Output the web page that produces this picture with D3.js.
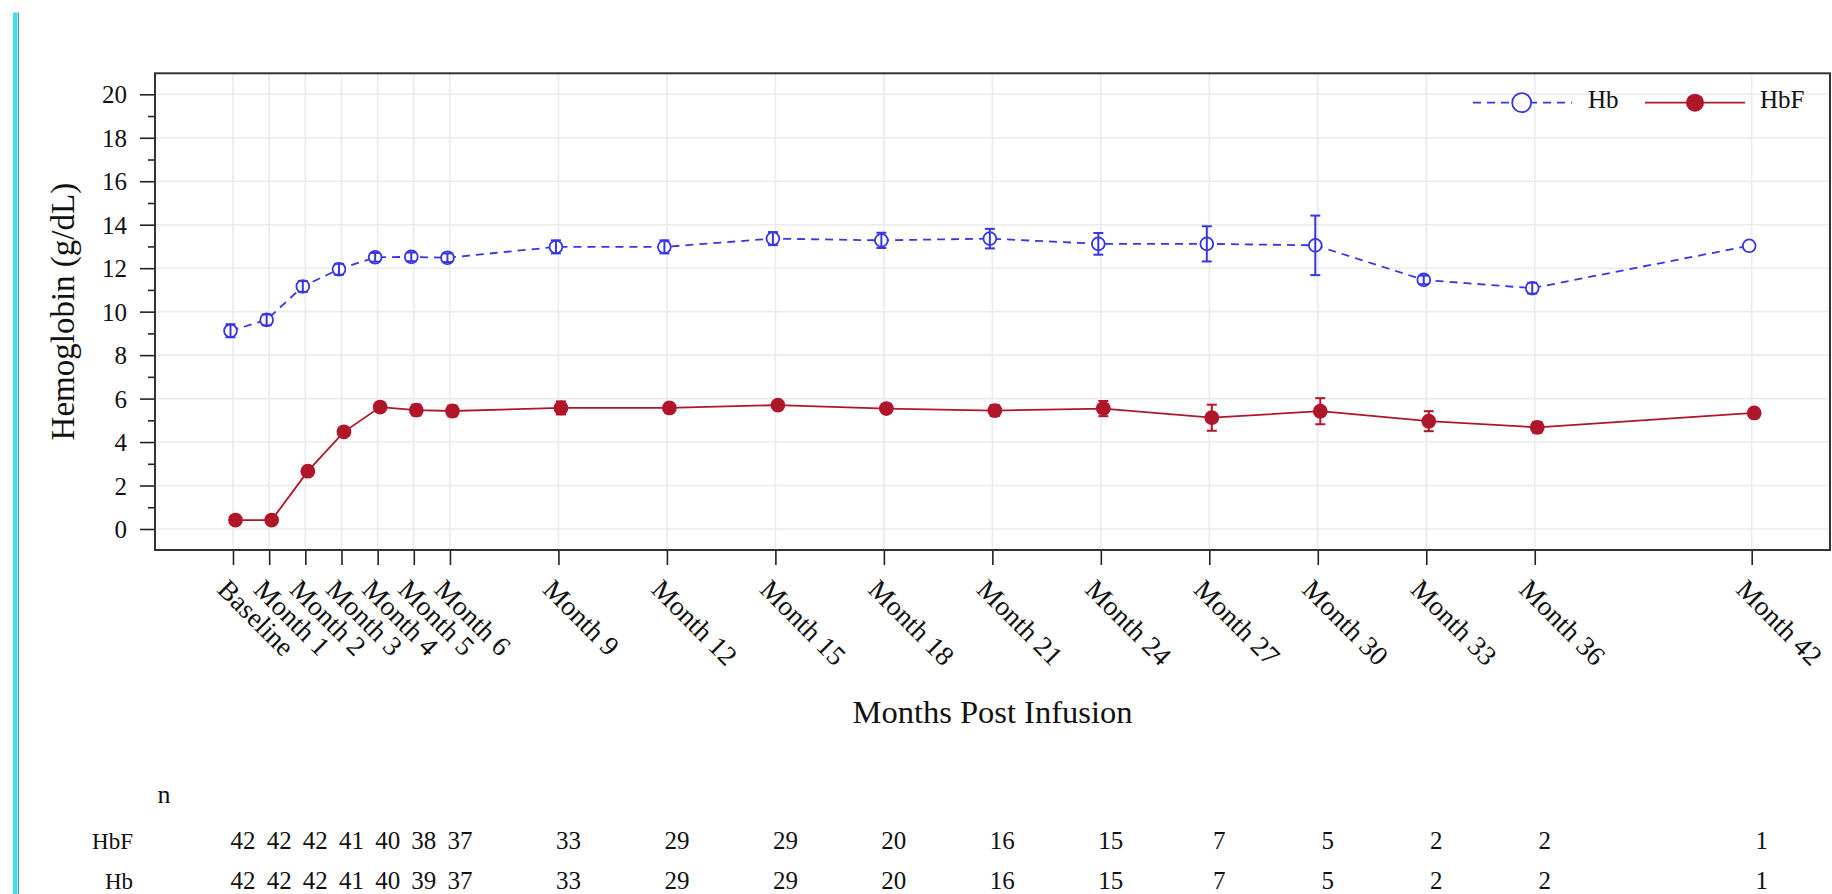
<!DOCTYPE html>
<html>
<head>
<meta charset="utf-8">
<script src="https://cdn.jsdelivr.net/npm/d3@7"></script>
<style>
  html, body { margin: 0; padding: 0; background: #ffffff; }
  svg { display: block; }
  text { font-family: "Liberation Serif", "Times New Roman", serif; fill: #111; }
</style>
</head>
<body>
<svg id="chart" width="1832" height="894"></svg>
<script>
// Visit labels and their position in months after infusion
const visits = ["Baseline", "Month 1", "Month 2", "Month 3", "Month 4", "Month 5", "Month 6",
  "Month 9", "Month 12", "Month 15", "Month 18", "Month 21", "Month 24", "Month 27",
  "Month 30", "Month 33", "Month 36", "Month 42"];
const visitMonths = [0, 1, 2, 3, 4, 5, 6, 9, 12, 15, 18, 21, 24, 27, 30, 33, 36, 42];

// Total hemoglobin: mean and standard error (g/dL)
const hbMean = [9.12, 9.62, 11.16, 11.95, 12.50, 12.52, 12.48, 12.98, 12.98, 13.36, 13.28,
  13.36, 13.12, 13.12, 13.05, 11.46, 11.08, 13.03];
const hbSE = [0.30, 0.25, 0.25, 0.25, 0.20, 0.20, 0.20, 0.30, 0.30, 0.30, 0.35, 0.45, 0.50,
  0.81, 1.37, 0.20, 0.25, 0];

// Fetal hemoglobin: mean and standard error (g/dL)
const hbfMean = [0.41, 0.41, 2.66, 4.47, 5.61, 5.47, 5.43, 5.57, 5.57, 5.70, 5.54, 5.45,
  5.54, 5.12, 5.42, 4.96, 4.68, 5.34];
const hbfSE = [0.10, 0.10, 0.15, 0.15, 0.20, 0.25, 0.25, 0.30, 0.20, 0.20, 0.20, 0.25, 0.35,
  0.60, 0.60, 0.46, 0.25, 0];

// Number of patients contributing at each visit
const nHbF = [42, 42, 42, 41, 40, 38, 37, 33, 29, 29, 20, 16, 15, 7, 5, 2, 2, 1];
const nHb = [42, 42, 42, 41, 40, 39, 37, 33, 29, 29, 20, 16, 15, 7, 5, 2, 2, 1];

const yTicks = [0, 2, 4, 6, 8, 10, 12, 14, 16, 18, 20];
const yMinorTicks = [1, 3, 5, 7, 9, 11, 13, 15, 17, 19];

const HB_COLOR = "#3636e8";
const HBF_COLOR = "#b01629";

const svg = d3.select("#chart");

// Plot frame
const plot = { left: 155, right: 1830, top: 73.3, bottom: 550 };
const x = d3.scaleLinear().domain([0, 42]).range([233, 1751.7]);
const y = d3.scaleLinear().domain([0, 20]).range([529, 94.3]);
const clusterOffset = 2.5;

// Accent bar at the left edge of the page
svg.append("rect").attr("x", 13).attr("y", 12.5).attr("width", 4.5).attr("height", 894)
  .attr("fill", "#3fdde6");
svg.append("line").attr("x1", 18.5).attr("x2", 18.5).attr("y1", 12.5).attr("y2", 894)
  .attr("stroke", "#5a8f94").attr("stroke-width", 1);

// Grid
const grid = svg.append("g").attr("stroke", "#ebebeb").attr("stroke-width", 1.6);
grid.selectAll("line.gy").data(yTicks).join("line")
  .attr("x1", plot.left).attr("x2", plot.right)
  .attr("y1", d => y(d)).attr("y2", d => y(d));
grid.selectAll("line.gx").data(visitMonths).join("line")
  .attr("x1", d => x(d)).attr("x2", d => x(d))
  .attr("y1", plot.top).attr("y2", plot.bottom);

// Y axis
const yAxis = svg.append("g").attr("transform", `translate(${plot.left},0)`)
  .call(d3.axisLeft(y).tickValues(yTicks).tickSize(15).tickPadding(13).tickFormat(d3.format("d")));
yAxis.select(".domain").remove();
yAxis.selectAll(".tick line").attr("stroke", "#222").attr("stroke-width", 1.6);
yAxis.selectAll(".tick text").attr("font-size", 25).attr("font-family", "Liberation Serif")
  .attr("fill", "#111").attr("dy", "0.34em");
svg.append("g").attr("transform", `translate(${plot.left},0)`)
  .call(d3.axisLeft(y).tickValues(yMinorTicks).tickSize(7).tickFormat(""))
  .call(g => g.select(".domain").remove())
  .selectAll(".tick line").attr("stroke", "#222").attr("stroke-width", 1.6);

// X axis
const xAxis = svg.append("g").attr("transform", `translate(0,${plot.bottom})`)
  .call(d3.axisBottom(x).tickValues(visitMonths).tickSize(15).tickFormat(""));
xAxis.select(".domain").remove();
xAxis.selectAll(".tick line").attr("stroke", "#222").attr("stroke-width", 1.6);

svg.append("g").selectAll("text").data(visits).join("text")
  .attr("transform", (d, i) => `translate(${x(visitMonths[i]) - 17},591) rotate(45)`)
  .attr("font-size", 27.5)
  .attr("text-anchor", "start")
  .text(d => d);

// Frame
svg.append("rect")
  .attr("x", plot.left).attr("y", plot.top)
  .attr("width", plot.right - plot.left).attr("height", plot.bottom - plot.top)
  .attr("fill", "none").attr("stroke", "#333").attr("stroke-width", 2);

// Axis titles
svg.append("text").attr("x", (plot.left + plot.right) / 2).attr("y", 722.7)
  .attr("text-anchor", "middle").attr("font-size", 32.5).text("Months Post Infusion");
svg.append("text")
  .attr("transform", `translate(73.5,${(plot.top + plot.bottom) / 2}) rotate(-90)`)
  .attr("text-anchor", "middle").attr("font-size", 33).text("Hemoglobin (g/dL)");

// Series
const hbData = visitMonths.map((m, i) => ({ m, v: hbMean[i], se: hbSE[i] }));
const hbfData = visitMonths.map((m, i) => ({ m, v: hbfMean[i], se: hbfSE[i] }));
const hx = d => x(d.m) - clusterOffset;
const fx = d => x(d.m) + clusterOffset;

function errorBars(g, data, px, color, cap) {
  const eb = g.selectAll("g.eb").data(data.filter(d => d.se > 0)).join("g")
    .attr("stroke", color).attr("stroke-width", 2).attr("fill", "none");
  eb.append("line").attr("x1", px).attr("x2", px)
    .attr("y1", d => y(d.v + d.se)).attr("y2", d => y(d.v - d.se));
  eb.append("line").attr("x1", d => px(d) - cap).attr("x2", d => px(d) + cap)
    .attr("y1", d => y(d.v + d.se)).attr("y2", d => y(d.v + d.se));
  eb.append("line").attr("x1", d => px(d) - cap).attr("x2", d => px(d) + cap)
    .attr("y1", d => y(d.v - d.se)).attr("y2", d => y(d.v - d.se));
}

// HbF: solid line, filled markers
const gF = svg.append("g");
gF.append("path").datum(hbfData)
  .attr("d", d3.line().x(fx).y(d => y(d.v)))
  .attr("fill", "none").attr("stroke", HBF_COLOR).attr("stroke-width", 1.8);
errorBars(gF, hbfData, fx, HBF_COLOR, 5);
gF.selectAll("circle").data(hbfData).join("circle")
  .attr("cx", fx).attr("cy", d => y(d.v)).attr("r", 7.4).attr("fill", HBF_COLOR);

// Hb: dashed line, open markers
const gH = svg.append("g");
gH.append("path").datum(hbData)
  .attr("d", d3.line().x(hx).y(d => y(d.v)))
  .attr("fill", "none").attr("stroke", HB_COLOR).attr("stroke-width", 1.8)
  .attr("stroke-dasharray", "8,6");
gH.selectAll("circle").data(hbData).join("circle")
  .attr("cx", hx).attr("cy", d => y(d.v)).attr("r", 6.4)
  .attr("fill", "#fff").attr("stroke", HB_COLOR).attr("stroke-width", 1.8);
errorBars(gH, hbData, hx, HB_COLOR, 5);

// Legend
const legend = svg.append("g");
legend.append("line").attr("x1", 1473).attr("x2", 1572).attr("y1", 102.7).attr("y2", 102.7)
  .attr("stroke", HB_COLOR).attr("stroke-width", 1.8).attr("stroke-dasharray", "8,6");
legend.append("circle").attr("cx", 1521.7).attr("cy", 102.7).attr("r", 9.5)
  .attr("fill", "#fff").attr("stroke", HB_COLOR).attr("stroke-width", 1.8);
legend.append("text").attr("x", 1588).attr("y", 107.5).attr("font-size", 25).text("Hb");
legend.append("line").attr("x1", 1645).attr("x2", 1745).attr("y1", 102.7).attr("y2", 102.7)
  .attr("stroke", HBF_COLOR).attr("stroke-width", 1.8);
legend.append("circle").attr("cx", 1695).attr("cy", 102.7).attr("r", 9)
  .attr("fill", HBF_COLOR);
legend.append("text").attr("x", 1760).attr("y", 107.5).attr("font-size", 25).text("HbF");

// Patient counts table
const table = svg.append("g");
table.append("text").attr("x", 157.5).attr("y", 803.3).attr("font-size", 26).text("n");
table.append("text").attr("x", 133).attr("y", 849.3).attr("text-anchor", "end")
  .attr("font-size", 23).text("HbF");
table.append("text").attr("x", 133).attr("y", 889.3).attr("text-anchor", "end")
  .attr("font-size", 23).text("Hb");
table.selectAll("text.nf").data(nHbF).join("text").attr("class", "nf")
  .attr("x", (d, i) => x(visitMonths[i]) + 10).attr("y", 849.3)
  .attr("text-anchor", "middle").attr("font-size", 25).text(d => d);
table.selectAll("text.nh").data(nHb).join("text").attr("class", "nh")
  .attr("x", (d, i) => x(visitMonths[i]) + 10).attr("y", 889.3)
  .attr("text-anchor", "middle").attr("font-size", 25).text(d => d);
</script>
</body>
</html>
